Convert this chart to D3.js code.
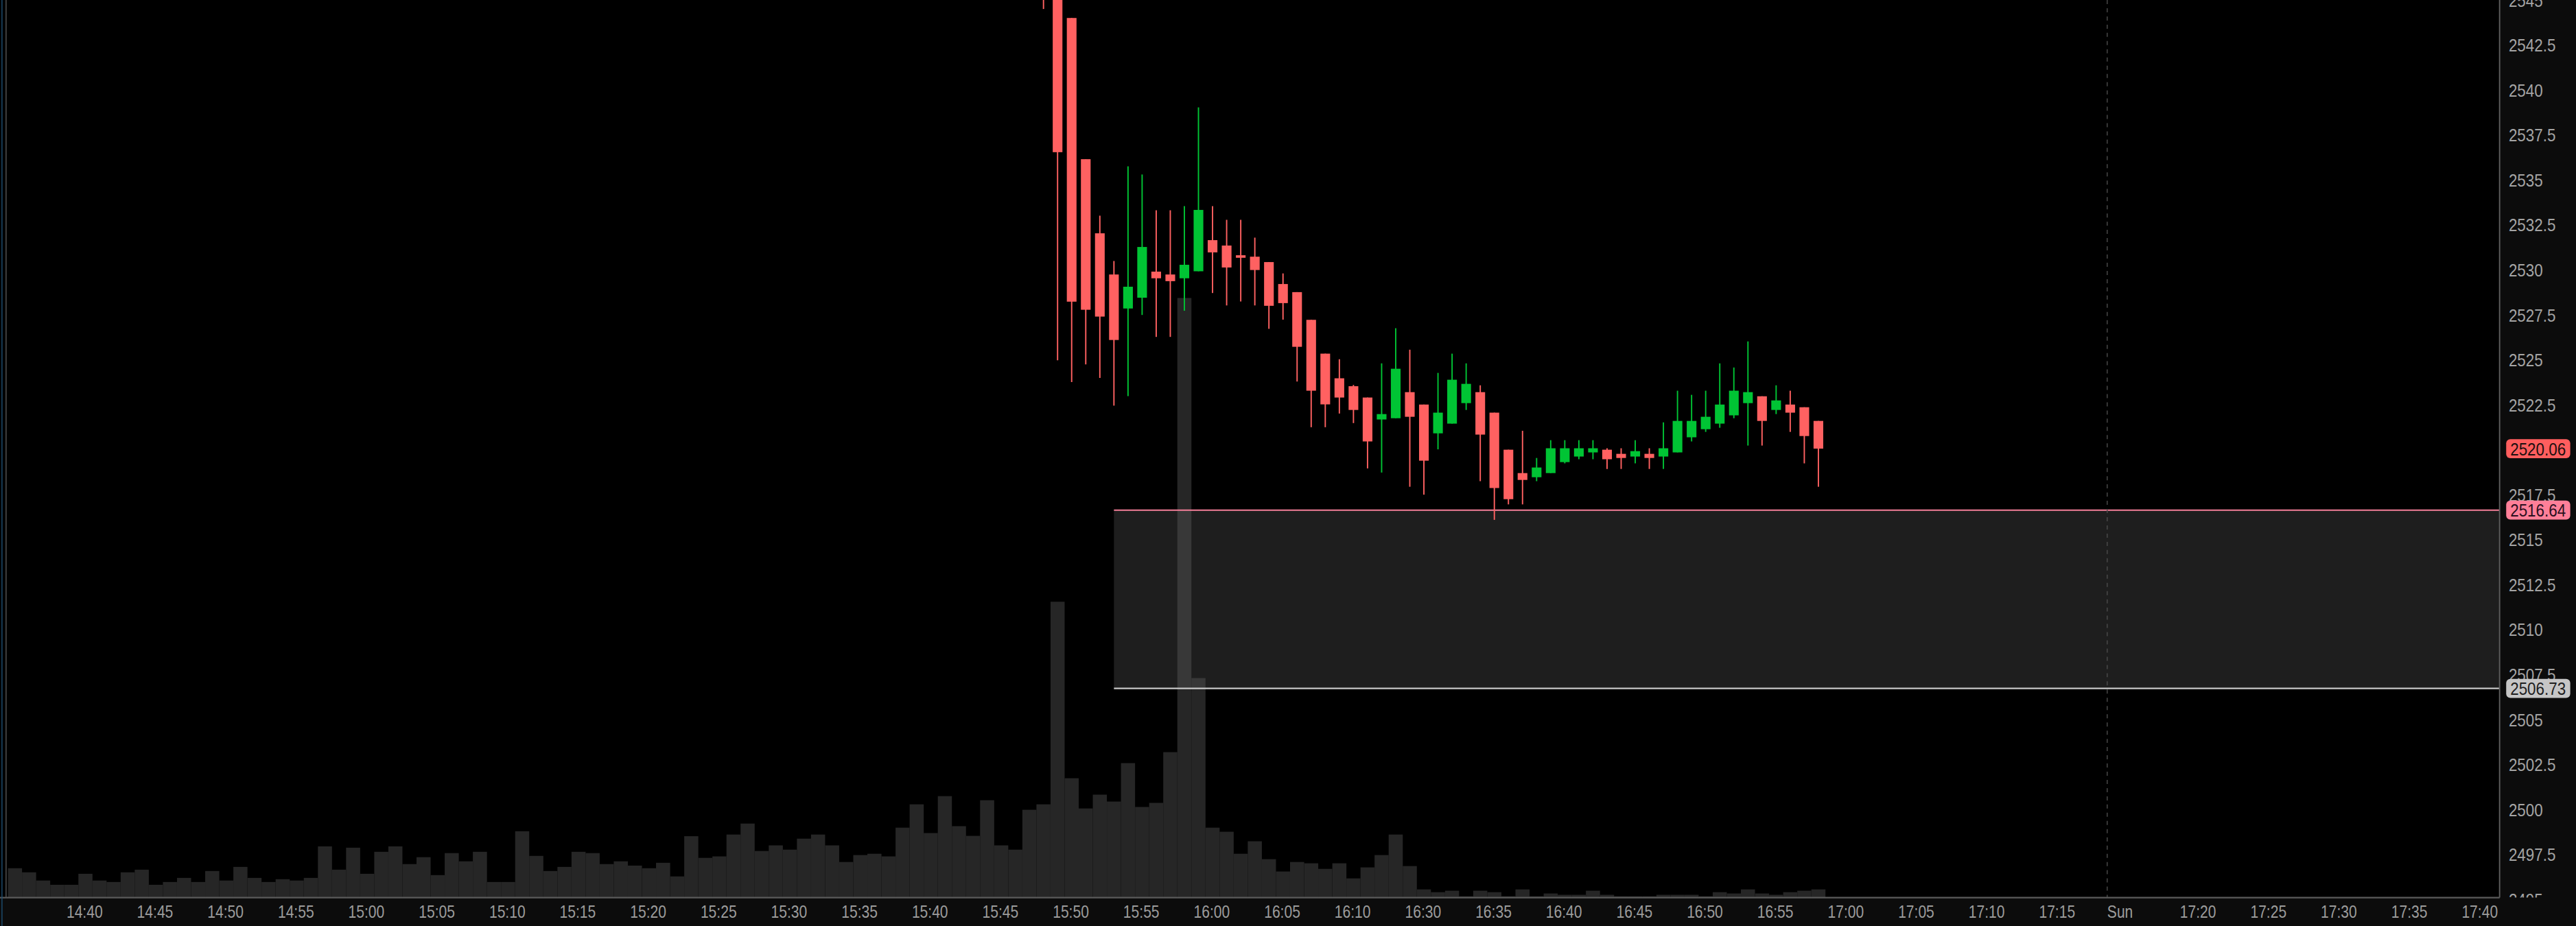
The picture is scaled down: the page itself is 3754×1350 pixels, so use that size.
<!DOCTYPE html>
<html>
<head>
<meta charset="utf-8">
<script src="https://cdn.jsdelivr.net/npm/d3@7"></script>
<style>
  html, body { margin: 0; padding: 0; background: #000; overflow: hidden; }
  svg { display: block; }
  text { font-family: "Liberation Sans", Arial, sans-serif; }
</style>
</head>
<body>
<div class="chart"></div>
<script>
// volume, one bar per minute slot, slot 0 is 14:40
const volumeFirstSlot = -5;
const volume = [
  1790, 1540, 1040, 780, 780, 1450, 1040, 950, 1540, 1700,
  780, 950, 1200, 950, 1620, 1040, 1870, 1200, 950, 1120,
  1040, 1200, 3120, 1700, 3040, 1450, 2790, 3120, 2040, 2460,
  1370, 2710, 2210, 2790, 950, 950, 4040, 2540, 1620, 1870,
  2790, 2710, 2040, 2210, 1950, 1790, 2120, 1290, 3740, 2420,
  2510, 3840, 4510, 2840, 3180, 2920, 3590, 3840, 3180, 2170,
  2590, 2670, 2510, 4260, 5680, 3930, 6180, 4350, 3760, 5930,
  3180, 2920, 5350, 5680, 18020, 7270, 5430, 6270, 5850, 8190,
  5520, 5770, 8860, 36520, 13370, 4260, 4010, 2670, 3430, 2340,
  1590, 2170, 2090, 1750, 2090, 1170, 1840, 2590, 3840, 1920,
  500, 330, 420, 80, 420, 330, 80, 500, 80, 250,
  170, 170, 420, 170, 80, 80, 80, 170, 170, 170,
  80, 330, 250, 500, 250, 170, 330, 420, 500
];

// candles, first one sits at slot 68 (15:48)
const candleFirstSlot = 68;
const open = [
  2547.2, 2546.0, 2544.0, 2536.15, 2532.03, 2529.74, 2527.85, 2528.45, 2529.90, 2529.74,
  2529.53, 2529.92, 2531.65, 2531.35, 2530.81, 2530.73, 2530.43, 2529.21, 2528.76, 2527.22,
  2525.34, 2523.97, 2523.53, 2522.90, 2521.68, 2521.75, 2523.20, 2522.51, 2520.91, 2521.45,
  2522.59, 2523.20, 2522.06, 2520.00, 2518.70, 2518.47, 2518.70, 2519.31, 2519.62, 2519.85,
  2520.00, 2519.77, 2519.62, 2519.77, 2519.62, 2519.85, 2520.69, 2521.14, 2521.45, 2521.91,
  2522.59, 2522.97, 2522.21, 2522.51, 2522.36, 2521.60
];
const high = [
  2548.0, 2546.3, 2544.0, 2536.15, 2533.01, 2530.49, 2535.75, 2535.30, 2533.31, 2533.31,
  2533.54, 2539.03, 2533.54, 2532.78, 2532.78, 2531.79, 2530.43, 2529.80, 2528.76, 2527.22,
  2525.34, 2525.03, 2523.60, 2522.90, 2524.80, 2526.75, 2525.56, 2522.51, 2524.27, 2525.34,
  2524.80, 2523.58, 2522.06, 2520.00, 2521.05, 2519.54, 2520.53, 2520.53, 2520.53, 2520.53,
  2520.08, 2520.08, 2520.53, 2520.08, 2521.52, 2523.28, 2523.05, 2523.28, 2524.80, 2524.57,
  2526.02, 2522.97, 2523.58, 2523.28, 2522.36, 2521.60
];
const low = [
  2544.5, 2524.97, 2523.76, 2524.74, 2523.99, 2522.45, 2522.98, 2527.49, 2526.27, 2526.27,
  2527.73, 2529.92, 2528.71, 2528.02, 2528.24, 2528.02, 2526.72, 2527.23, 2523.79, 2521.25,
  2521.25, 2522.01, 2521.48, 2518.96, 2518.73, 2521.75, 2517.94, 2517.50, 2520.02, 2521.45,
  2522.21, 2518.25, 2516.10, 2516.96, 2516.96, 2518.25, 2518.70, 2519.24, 2519.47, 2519.47,
  2518.93, 2518.93, 2519.24, 2518.93, 2518.93, 2519.85, 2520.46, 2520.99, 2521.22, 2521.75,
  2520.23, 2520.23, 2521.98, 2520.99, 2519.24, 2517.94
];
const close = [
  2545.6, 2536.54, 2528.23, 2527.78, 2527.40, 2526.10, 2529.06, 2531.27, 2529.53, 2529.37,
  2530.28, 2533.33, 2530.97, 2530.13, 2530.67, 2529.99, 2528.00, 2528.15, 2525.72, 2523.28,
  2522.52, 2522.90, 2522.21, 2520.46, 2521.98, 2524.50, 2521.83, 2519.39, 2522.06, 2523.89,
  2523.66, 2520.84, 2517.87, 2517.25, 2518.32, 2519.01, 2520.08, 2520.08, 2520.08, 2520.08,
  2519.47, 2519.54, 2519.92, 2519.54, 2520.08, 2521.60, 2521.60, 2521.83, 2522.51, 2523.28,
  2523.20, 2521.60, 2522.74, 2522.06, 2520.76, 2520.06
];

// time axis ticks (16:15 - 16:29 is skipped by the session)
const timeTickSlots = [0, 5, 10, 15, 20, 25, 30, 35, 40, 45, 50, 55, 60, 65, 70, 75, 80, 85, 90,
  95, 100, 105, 110, 115, 120, 125, 130, 135, 140, 150, 155, 160, 165, 170];
const timeTickLabels = ["14:40", "14:45", "14:50", "14:55", "15:00", "15:05", "15:10", "15:15",
  "15:20", "15:25", "15:30", "15:35", "15:40", "15:45", "15:50", "15:55", "16:00", "16:05",
  "16:10", "16:30", "16:35", "16:40", "16:45", "16:50", "16:55", "17:00", "17:05", "17:10",
  "17:15", "17:20", "17:25", "17:30", "17:35", "17:40"];
const sessionBreakSlot = 143.5;
const sessionBreakLabel = "Sun";

// price axis ticks
const priceTicks = [2545, 2542.5, 2540, 2537.5, 2535, 2532.5, 2530, 2527.5, 2525, 2522.5,
  2520, 2517.5, 2515, 2512.5, 2510, 2507.5, 2505, 2502.5, 2500, 2497.5, 2495];

// zone and price bubbles
const zoneTop = 2516.64;
const zoneBottom = 2506.73;
const zoneStartSlot = 73;
const lastPrice = 2520.06;

// layout in a 1568 x 564 frame, stretched to the window
const W = 1568, H = 564;
const plotRight = 1521.5;
const plotBottom = 546.7;

let svg = d3
  .select(".chart")
  .append("svg")
  .attr("width", 3754)
  .attr("height", 1350)
  .attr("viewBox", `0 0 ${W} ${H}`)
  .attr("preserveAspectRatio", "none");

// scales
let x = d3.scaleLinear().domain([0, 170]).range([52, 52 + 170 * 8.576]);
let slotW = x(1) - x(0);
let y = d3.scaleLinear().domain([2495, 2545]).range([547.8, 0]);
let yVol = d3.scaleLinear().domain([0, 10000]).range([plotBottom, plotBottom - 100]);

// backgrounds
svg.append("rect").attr("width", W).attr("height", H).attr("fill", "#0c0c0c");
svg.append("rect").attr("width", plotRight).attr("height", plotBottom).attr("fill", "#000");

svg.append("clipPath").attr("id", "plotClip")
  .append("rect").attr("width", plotRight).attr("height", plotBottom);
svg.append("clipPath").attr("id", "axisClip")
  .append("rect").attr("x", plotRight).attr("width", W - plotRight).attr("height", plotBottom);

let plot = svg.append("g").attr("clip-path", "url(#plotClip)");

// volume bars
let volData = volume.map((v, i) => ({ slot: volumeFirstSlot + i, v: v }));
plot.append("g")
  .selectAll("rect")
  .data(volData)
  .enter()
  .append("rect")
  .attr("x", d => x(d.slot) - slotW / 2)
  .attr("width", slotW)
  .attr("y", d => yVol(d.v))
  .attr("height", d => plotBottom - yVol(d.v))
  .attr("fill", "#262626");

// zone box
plot.append("rect")
  .attr("x", x(zoneStartSlot))
  .attr("width", plotRight - x(zoneStartSlot))
  .attr("y", y(zoneTop))
  .attr("height", y(zoneBottom) - y(zoneTop))
  .attr("fill", "#656565")
  .attr("fill-opacity", 0.3);
plot.append("line")
  .attr("x1", x(zoneStartSlot)).attr("x2", plotRight)
  .attr("y1", y(zoneTop)).attr("y2", y(zoneTop))
  .attr("stroke", "#f7809a").attr("stroke-width", 0.9);
plot.append("line")
  .attr("x1", x(zoneStartSlot)).attr("x2", plotRight)
  .attr("y1", y(zoneBottom)).attr("y2", y(zoneBottom))
  .attr("stroke", "#c8c8c8").attr("stroke-width", 0.9);

// session break
plot.append("line")
  .attr("x1", x(sessionBreakSlot)).attr("x2", x(sessionBreakSlot))
  .attr("y1", 0).attr("y2", plotBottom)
  .attr("stroke", "#4a4a4a").attr("stroke-width", 0.6)
  .attr("stroke-dasharray", "2.5,2.5");

// candles
let candles = open.map((o, i) => ({
  slot: candleFirstSlot + i, o: o, h: high[i], l: low[i], c: close[i]
}));
let upColor = "#00c434", downColor = "#ff6161";
let candle = plot.append("g")
  .selectAll("g")
  .data(candles)
  .enter()
  .append("g");
candle.append("line")
  .attr("x1", d => x(d.slot)).attr("x2", d => x(d.slot))
  .attr("y1", d => y(d.h)).attr("y2", d => y(d.l))
  .attr("stroke", d => (d.c >= d.o ? upColor : downColor))
  .attr("stroke-width", 0.8);
candle.append("rect")
  .attr("x", d => x(d.slot) - 2.95)
  .attr("width", 5.9)
  .attr("y", d => y(Math.max(d.o, d.c)))
  .attr("height", d => Math.max(1.3, Math.abs(y(d.o) - y(d.c))))
  .attr("fill", d => (d.c >= d.o ? upColor : downColor));

// frame lines
svg.append("line").attr("x1", plotRight).attr("x2", plotRight).attr("y1", 0).attr("y2", plotBottom)
  .attr("stroke", "#5c5c5c").attr("stroke-width", 0.8);
svg.append("line").attr("x1", 0).attr("x2", plotRight).attr("y1", plotBottom).attr("y2", plotBottom)
  .attr("stroke", "#5a5a5a").attr("stroke-width", 0.9);
svg.append("line").attr("x1", 3.7).attr("x2", 3.7).attr("y1", 0).attr("y2", plotBottom)
  .attr("stroke", "#555").attr("stroke-width", 0.6);
svg.append("line").attr("x1", 1.2).attr("x2", 1.2).attr("y1", 0).attr("y2", H)
  .attr("stroke", "#1d4d70").attr("stroke-width", 0.6);

// price axis
let yAxis = svg.append("g")
  .attr("clip-path", "url(#axisClip)")
  .append("g")
  .attr("transform", `translate(${plotRight},0)`)
  .call(d3.axisRight(y).tickValues(priceTicks).tickSize(0).tickPadding(0).tickFormat(d => String(d)));
yAxis.select(".domain").remove();
yAxis.selectAll("text")
  .attr("x", 6.5)
  .attr("transform", "scale(0.85,1)")
  .attr("fill", "#a4a4a4")
  .style("font-size", "11px")
  .style("font-family", "Liberation Sans, Arial, sans-serif");

// time axis
let xAxis = svg.append("g")
  .attr("transform", `translate(-1,${plotBottom})`)
  .call(d3.axisBottom(x).tickValues(timeTickSlots).tickSize(0).tickPadding(4.5)
    .tickFormat((d, i) => timeTickLabels[i]));
xAxis.select(".domain").remove();
xAxis.selectAll("text")
  .attr("transform", "scale(0.8,1)")
  .attr("fill", "#9c9c9c")
  .style("font-size", "11px")
  .style("font-family", "Liberation Sans, Arial, sans-serif");

svg.append("text")
  .attr("transform", `translate(${x(sessionBreakSlot)},${plotBottom + 12.3}) scale(0.8,1)`)
  .attr("fill", "#9c9c9c")
  .style("font-size", "11px")
  .text(sessionBreakLabel);

// price bubbles
let bubbles = [
  { p: lastPrice, fill: "#ff5e5e", text: "#1c1010" },
  { p: zoneTop, fill: "#ff7f98", text: "#2a1020" },
  { p: zoneBottom, fill: "#c6c6c6", text: "#1e1e1e" }
];
let bubble = svg.append("g")
  .selectAll("g")
  .data(bubbles)
  .enter()
  .append("g");
bubble.append("rect")
  .attr("x", 1525.5)
  .attr("width", 39)
  .attr("y", d => y(d.p) - 5.8)
  .attr("height", 11.6)
  .attr("rx", 2.5)
  .attr("fill", d => d.fill);
bubble.append("text")
  .attr("transform", d => `translate(1528,${y(d.p)}) scale(0.85,1)`)
  .attr("dy", "0.36em")
  .attr("fill", d => d.text)
  .style("font-size", "11px")
  .text(d => d.p.toFixed(2));
</script>
</body>
</html>
